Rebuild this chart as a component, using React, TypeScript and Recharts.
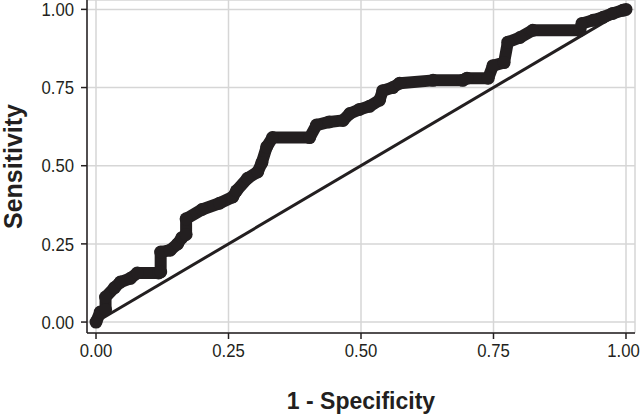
import { LineChart, Line, XAxis, YAxis, CartesianGrid, Label } from 'recharts';

const fpr = [
    0, 0.008, 0.018, 0.018, 0.035, 0.046, 0.065, 0.078, 0.118, 0.122, 0.122, 0.14, 0.154, 0.162, 0.17, 0.17,
    0.2, 0.233, 0.258, 0.265, 0.286, 0.305, 0.313, 0.322, 0.333, 0.403, 0.416, 0.44, 0.466, 0.479, 0.497,
    0.516, 0.535, 0.541, 0.56, 0.573, 0.636, 0.692, 0.7, 0.74, 0.749, 0.77, 0.777, 0.8, 0.824, 0.913, 0.917,
    0.938, 0.957, 0.975, 0.994, 1,
];
const tpr = [
    0, 0.032, 0.04, 0.08, 0.11, 0.128, 0.14, 0.157, 0.157, 0.16, 0.224, 0.23, 0.25, 0.27, 0.28, 0.33,
    0.36, 0.38, 0.4, 0.42, 0.46, 0.48, 0.51, 0.56, 0.59, 0.59, 0.63, 0.64, 0.645, 0.667, 0.68,
    0.69, 0.71, 0.74, 0.75, 0.764, 0.773, 0.773, 0.78, 0.78, 0.82, 0.83, 0.895, 0.91, 0.933, 0.933, 0.955,
    0.965, 0.975, 0.987, 0.997, 1,
];
const diagX = [0, 1];
const diagY = [0, 1];
const ticks = [0, 0.25, 0.5, 0.75, 1];

const roc = fpr.map((x, i) => ({ x, y: tpr[i] }));
const diag = diagX.map((x, i) => ({ x, y: diagY[i] }));

const ink = '#231f20';
const titleFont = { fontFamily: '"Liberation Sans", Arial, sans-serif', fontWeight: 'bold', fill: ink };

// tick text squeezed a little, the original uses a narrow face
function NarrowTick(props: any) {
    const { x, y, payload, textAnchor } = props;
    const isX = textAnchor === 'middle';
    // keep the last x label inside the 641px frame
    const tx = isX ? Math.min(x, 623.5) : x;
    return (
        <g transform={`translate(${tx},${y}) scale(0.88,1)`}>
            <text
                x={0}
                y={0}
                dy={isX ? '0.71em' : '0.355em'}
                textAnchor={textAnchor}
                fontFamily='"Liberation Sans", Arial, sans-serif'
                fontSize={19}
                fill={ink}
            >
                {Number(payload.value).toFixed(2)}
            </text>
        </g>
    );
}

export default function App() {
    return (
        <div style={{ position: 'absolute', left: 0, top: 0, background: '#fff' }}>
            <LineChart width={641} height={416} margin={{ top: 0, right: 6, left: 0, bottom: 0 }}>
                <CartesianGrid stroke="#d6d6d6" strokeWidth={1.5} />
                <XAxis
                    type="number"
                    dataKey="x"
                    domain={[-0.017, 1.017]}
                    ticks={ticks}
                    allowDataOverflow
                    height={83}
                    tick={<NarrowTick />}
                    tickSize={6}
                    tickMargin={4}
                    axisLine={{ stroke: ink, strokeWidth: 1.5 }}
                    tickLine={{ stroke: ink, strokeWidth: 1.5 }}
                >
                    <Label value="1 - Specificity" position="insideBottom" offset={7} style={{ ...titleFont, fontSize: 23 }} />
                </XAxis>
                <YAxis
                    type="number"
                    dataKey="y"
                    domain={[-0.035, 1.03]}
                    ticks={ticks}
                    allowDataOverflow
                    width={87}
                    tick={<NarrowTick />}
                    tickSize={6}
                    tickMargin={7}
                    axisLine={{ stroke: ink, strokeWidth: 1.5 }}
                    tickLine={{ stroke: ink, strokeWidth: 1.5 }}
                >
                    <Label
                        value="Sensitivity"
                        angle={-90}
                        position="insideLeft"
                        offset={13}
                        style={{ ...titleFont, fontSize: 25, textAnchor: 'middle' }}
                    />
                </YAxis>
                <Line
                    data={roc}
                    dataKey="y"
                    type="linear"
                    stroke={ink}
                    strokeWidth={12}
                    strokeLinejoin="round"
                    dot={{ r: 6.5, fill: ink, stroke: 'none' }}
                    activeDot={false}
                    isAnimationActive={false}
                />
                <Line
                    data={diag}
                    dataKey="y"
                    type="linear"
                    stroke={ink}
                    strokeWidth={3}
                    dot={false}
                    activeDot={false}
                    isAnimationActive={false}
                />
            </LineChart>
        </div>
    );
}
